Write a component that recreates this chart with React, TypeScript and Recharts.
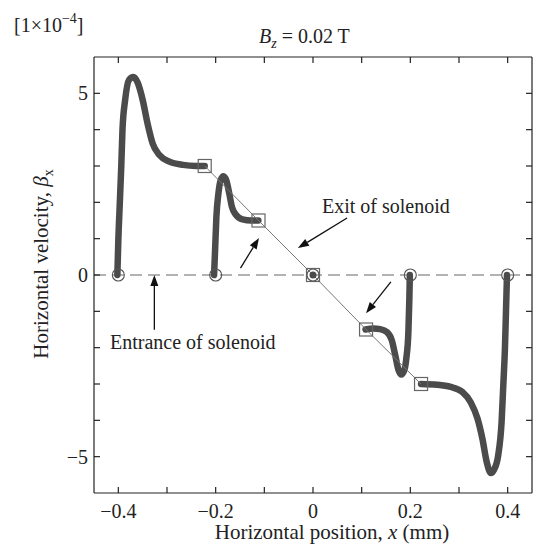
import { ComposedChart, Line, Scatter, XAxis, YAxis, ReferenceLine } from "recharts";

const xTicks = [-0.4, -0.3, -0.2, -0.1, 0, 0.1, 0.2, 0.3, 0.4];
const xLabelTicks = [-0.4, -0.2, 0, 0.2, 0.4];
const yTicks = [-5, -4, -3, -2, -1, 0, 1, 2, 3, 4, 5];
const yLabelTicks = [-5, 0, 5];

// trajectories, x in mm, y in units of 1e-4
const path1 = [
  { x: -0.402, y: 0 }, { x: -0.4, y: 0.96 }, { x: -0.397, y: 1.97 }, { x: -0.394, y: 2.98 },
  { x: -0.3915, y: 3.99 }, { x: -0.386, y: 4.82 }, { x: -0.378, y: 5.37 }, { x: -0.369, y: 5.45 },
  { x: -0.3605, y: 5.3 }, { x: -0.35, y: 4.82 }, { x: -0.34, y: 4.17 }, { x: -0.3295, y: 3.62 },
  { x: -0.3156, y: 3.3 }, { x: -0.295, y: 3.12 }, { x: -0.2674, y: 3.03 }, { x: -0.24, y: 3.0 },
  { x: -0.2225, y: 3.0 },
];
const path2 = [
  { x: -0.2033, y: 0 }, { x: -0.2012, y: 0.68 }, { x: -0.1985, y: 1.6 }, { x: -0.1944, y: 2.24 },
  { x: -0.1895, y: 2.62 }, { x: -0.184, y: 2.72 }, { x: -0.178, y: 2.6 }, { x: -0.172, y: 2.24 },
  { x: -0.1667, y: 1.88 }, { x: -0.158, y: 1.65 }, { x: -0.1448, y: 1.53 }, { x: -0.127, y: 1.5 },
  { x: -0.1123, y: 1.5 },
];
const path3 = [{ x: 0, y: 0 }];
const path4 = [
  { x: 0.108, y: -1.5 }, { x: 0.124, y: -1.47 }, { x: 0.138, y: -1.49 }, { x: 0.1518, y: -1.57 },
  { x: 0.162, y: -1.8 }, { x: 0.169, y: -2.21 }, { x: 0.1758, y: -2.62 }, { x: 0.1814, y: -2.74 },
  { x: 0.1876, y: -2.62 }, { x: 0.1917, y: -2.3 }, { x: 0.196, y: -1.57 }, { x: 0.198, y: -0.65 },
  { x: 0.199, y: 0 },
];
const path5 = [
  { x: 0.222, y: -3.0 }, { x: 0.255, y: -3.02 }, { x: 0.283, y: -3.08 }, { x: 0.307, y: -3.22 },
  { x: 0.324, y: -3.5 }, { x: 0.338, y: -3.95 }, { x: 0.348, y: -4.5 }, { x: 0.357, y: -5.15 },
  { x: 0.3655, y: -5.45 }, { x: 0.3723, y: -5.35 }, { x: 0.3806, y: -4.96 }, { x: 0.3875, y: -4.05 },
  { x: 0.391, y: -3.04 }, { x: 0.3944, y: -2.02 }, { x: 0.3965, y: -1.02 }, { x: 0.3986, y: 0 },
];

const exitPoints = [
  { x: -0.2225, y: 3.0 }, { x: -0.112, y: 1.5 }, { x: 0, y: 0 }, { x: 0.109, y: -1.5 }, { x: 0.222, y: -3.0 },
];
const entrancePoints = [
  { x: -0.4, y: 0 }, { x: -0.2, y: 0 }, { x: 0, y: 0 }, { x: 0.2, y: 0 }, { x: 0.4, y: 0 },
];

// annotation arrows (data coords)
const arrows = [
  [{ x: 0.07, y: 1.57 }, { x: -0.031, y: 0.74 }],
  [{ x: -0.149, y: 0.19 }, { x: -0.111, y: 1.02 }],
  [{ x: 0.16, y: -0.19 }, { x: 0.109, y: -1.05 }],
  [{ x: -0.326, y: -1.51 }, { x: -0.326, y: 0 }],
];

const W = 535;
const H = 551;
const PLOT_TOP = 57;
const PLOT_RIGHT = 532;
const FONT = '"Liberation Serif", "Times New Roman", serif';
const INK = "#222";
const CURVE = "#4b4b4b";

const fmt = (v: number) => (v < 0 ? `\u2212${Math.abs(v)}` : `${v}`);

const XTick = ({ x, y, payload }: any) => (
  <g>
    <line x1={x} y1={y} x2={x} y2={y - 6} stroke={INK} strokeWidth={1.2} />
    <line x1={x} y1={PLOT_TOP} x2={x} y2={PLOT_TOP + 6} stroke={INK} strokeWidth={1.2} />
    {xLabelTicks.includes(payload.value) && (
      <text x={x} y={y + 25} textAnchor="middle" fontSize={20} fontFamily={FONT} fill={INK}>
        {fmt(payload.value)}
      </text>
    )}
  </g>
);

const YTick = ({ x, y, payload }: any) => (
  <g>
    <line x1={x} y1={y} x2={x + 6} y2={y} stroke={INK} strokeWidth={1.2} />
    <line x1={PLOT_RIGHT} y1={y} x2={PLOT_RIGHT - 6} y2={y} stroke={INK} strokeWidth={1.2} />
    {yLabelTicks.includes(payload.value) && (
      <text x={x - 6} y={y + 7} textAnchor="end" fontSize={20} fontFamily={FONT} fill={INK}>
        {fmt(payload.value)}
      </text>
    )}
  </g>
);

const Arrow = (p: any) => {
  const { x1, y1, x2, y2 } = p;
  const a = Math.atan2(y2 - y1, x2 - x1);
  const L = 11;
  const hw = 4;
  const bx = x2 - L * Math.cos(a);
  const by = y2 - L * Math.sin(a);
  const nx = -Math.sin(a) * hw;
  const ny = Math.cos(a) * hw;
  return (
    <g>
      <line x1={x1} y1={y1} x2={bx} y2={by} stroke="#111" strokeWidth={1.3} />
      <polygon points={`${x2},${y2} ${bx + nx},${by + ny} ${bx - nx},${by - ny}`} fill="#111" />
    </g>
  );
};

const Square = ({ cx, cy }: any) => (
  <rect x={cx - 6.5} y={cy - 6.5} width={13} height={13} fill="none" stroke="#666" strokeWidth={1.2} />
);
const Ring = ({ cx, cy }: any) => (
  <circle cx={cx} cy={cy} r={6} fill="none" stroke="#555" strokeWidth={1.1} />
);
const Dot = ({ cx, cy }: any) => <circle cx={cx} cy={cy} r={3.5} fill={CURVE} />;

const paths = [path1, path2, path4, path5];

export default function App() {
  return (
    <div style={{ position: "absolute", left: 0, top: 0, width: W, height: H, background: "#fff" }}>
      <ComposedChart width={W} height={H} margin={{ top: PLOT_TOP, right: W - PLOT_RIGHT, bottom: 0, left: 0 }}>
        <XAxis
          type="number"
          dataKey="x"
          domain={[-0.45, 0.45]}
          ticks={xTicks}
          interval={0}
          height={58}
          tickSize={0}
          tickMargin={0}
          tick={<XTick />}
          stroke={INK}
          strokeWidth={1.2}
          allowDataOverflow
          label={{
            content: () => (
              <text x={332} y={539} textAnchor="middle" fontSize={21} fontFamily={FONT} fill={INK}>
                Horizontal position, <tspan fontStyle="italic">x</tspan> (mm)
              </text>
            ),
          }}
        />
        <YAxis
          type="number"
          dataKey="y"
          domain={[-6, 6]}
          ticks={yTicks}
          interval={0}
          width={94}
          tickSize={0}
          tickMargin={0}
          tick={<YTick />}
          stroke={INK}
          strokeWidth={1.2}
          allowDataOverflow
          label={{
            content: () => (
              <text
                transform="translate(48,264) rotate(-90)"
                textAnchor="middle"
                fontSize={21}
                fontFamily={FONT}
                fill={INK}
              >
                Horizontal velocity, <tspan fontStyle="italic">β</tspan>
                <tspan fontSize={14} dy={5}>x</tspan>
              </text>
            ),
          }}
        />
        <ReferenceLine y={6} stroke={INK} strokeWidth={1.2} />
        <ReferenceLine x={0.45} stroke={INK} strokeWidth={1.2} />
        <ReferenceLine y={0} stroke="#999" strokeWidth={1.6} strokeDasharray="12 6" />
        {paths.map((d, i) => (
          <Line
            key={i}
            data={d}
            dataKey="y"
            type="monotone"
            stroke={CURVE}
            strokeWidth={6.5}
            strokeLinecap="round"
            dot={false}
            activeDot={false}
            isAnimationActive={false}
          />
        ))}
        <Scatter data={path3} dataKey="y" shape={<Dot />} isAnimationActive={false} />
        <Line
          data={exitPoints}
          dataKey="y"
          type="linear"
          stroke="#777"
          strokeWidth={1}
          dot={false}
          activeDot={false}
          isAnimationActive={false}
        />
        <Scatter data={exitPoints} dataKey="y" shape={<Square />} isAnimationActive={false} />
        <Scatter data={entrancePoints} dataKey="y" shape={<Ring />} isAnimationActive={false} />
        {arrows.map((s, i) => (
          <ReferenceLine key={`a${i}`} segment={s} shape={<Arrow />} />
        ))}
      </ComposedChart>
      <svg
        width={W}
        height={H}
        style={{ position: "absolute", left: 0, top: 0, pointerEvents: "none" }}
        fontFamily={FONT}
        fill={INK}
      >
        <text x={14} y={32} fontSize={20}>
          [1×10<tspan fontSize={14} dy={-9}>−4</tspan>
          <tspan dy={9}>]</tspan>
        </text>
        <text x={259} y={43} fontSize={20}>
          <tspan fontStyle="italic">B</tspan>
          <tspan fontStyle="italic" fontSize={14} dy={5}>z</tspan>
          <tspan dy={-5}> = 0.02 T</tspan>
        </text>
        <text x={322} y={213} fontSize={20}>Exit of solenoid</text>
        <text x={110} y={349} fontSize={20}>Entrance of solenoid</text>
      </svg>
    </div>
  );
}
